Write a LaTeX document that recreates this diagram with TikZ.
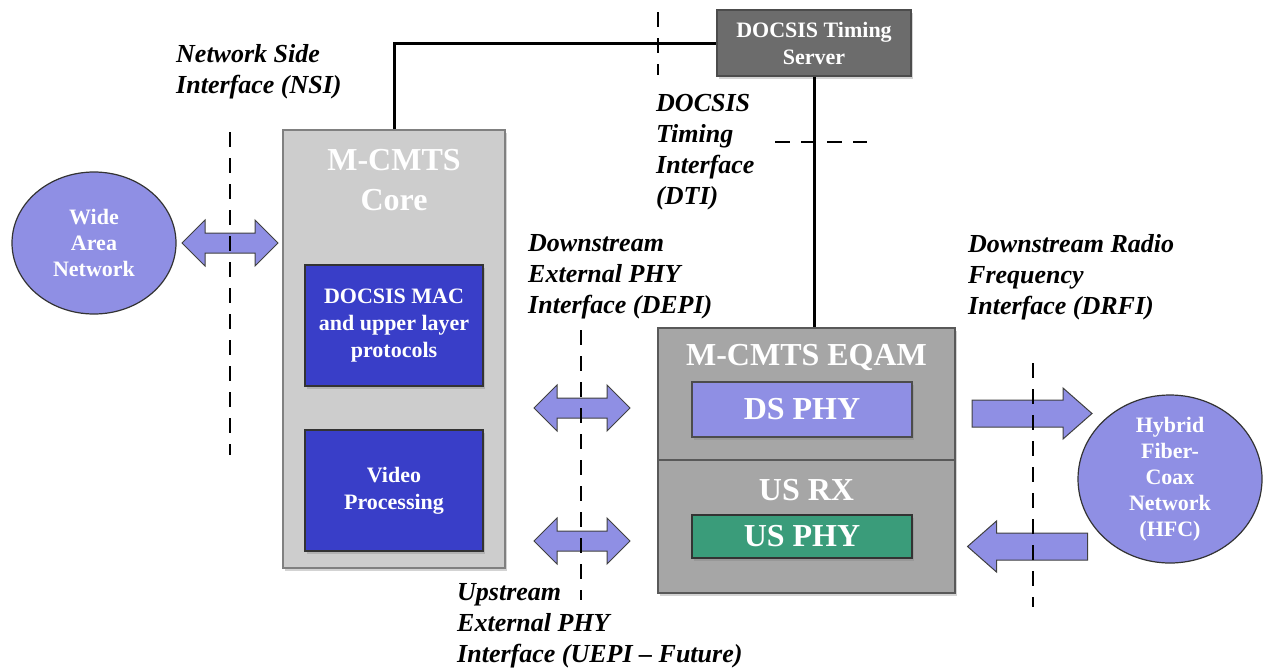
\documentclass[tikz,border=0pt]{standalone}
\usepackage{fontspec}
\setmainfont{Liberation Serif}
\usetikzlibrary{positioning,shapes.geometric,shadows}

\definecolor{lavender}{RGB}{143,143,228}
\definecolor{macblue}{RGB}{57,62,200}
\definecolor{phygreen}{RGB}{58,156,122}
\definecolor{coregray}{RGB}{205,205,205}
\definecolor{eqamgray}{RGB}{166,166,166}
\definecolor{servergray}{RGB}{108,108,108}

\tikzset{
  Arrowfill/.style={draw=black!75,fill=lavender,line width=1pt,line join=miter},
  pics/dblarrow/.style={code={
    \draw[Arrowfill] (-48,0) -- (-25,-23) -- (-25,-10) -- (25,-10) -- (25,-23) -- (48,0)
      -- (25,23) -- (25,10) -- (-25,10) -- (-25,23) -- cycle;}},
  pics/sglarrow/.style={code={
    \draw[Arrowfill] (-60,-13.5) -- (31,-13.5) -- (31,-25.5) -- (60,0) -- (31,25.5)
      -- (31,13.5) -- (-60,13.5) -- cycle;}}
}

\begin{document}
\begin{tikzpicture}[x=1pt,y=-1pt,
  every node/.style={inner sep=0pt},
  Netnode/.style={ellipse,draw=black!80,fill=lavender,line width=1.2pt,text=white,align=center,
    font=\fontsize{22}{26}\selectfont\bfseries},
  Shade/.style={drop shadow={shadow xshift=2pt,shadow yshift=-3pt,opacity=.35}},
  Outerbox/.style={rectangle,draw=black!50,line width=1.5pt,Shade},
  Innerbox/.style={rectangle,draw=black!80,line width=1.2pt,text=white,align=center,Shade},
  Smalltext/.style={font=\fontsize{22}{27}\selectfont\bfseries},
  Bigtext/.style={text=white,align=center,font=\fontsize{32}{40}\selectfont\bfseries},
  Iflabel/.style={anchor=west,align=left,font=\fontsize{26}{31}\selectfont\bfseries\itshape},
  Ifline/.style={line width=2.8pt,dash pattern=on 15pt off 11pt},
  Link/.style={line width=3pt}
]
\useasboundingbox (0,0) rectangle (1265,670);

% the networks
\node[Netnode,minimum width=164pt,minimum height=142pt] (wan) at (94,243) {Wide\\Area\\Network};
\node[Netnode,inner ysep=-6pt,minimum width=184pt,minimum height=168pt] (hfc) at (1170,479) {Hybrid\\Fiber-\\Coax\\Network\\(HFC)};

% the core
\node[Outerbox,fill=coregray,minimum width=222pt,minimum height=438pt] (core) at (394,349) {};
\node[Bigtext] (coretitle) at (394,180) {M-CMTS\\Core};
\node[Innerbox,Smalltext,fill=macblue,minimum width=178pt,minimum height=121pt] (mac) at (394,325.5) {DOCSIS MAC\\and upper layer\\protocols};
\node[Innerbox,Smalltext,fill=macblue,minimum width=178pt,minimum height=121pt] (video) at (394,490.5) {Video\\Processing};

% the timing server
\node[Innerbox,Smalltext,fill=servergray,draw=black!70,minimum width=194pt,minimum height=66pt] (server) at (814,43) {DOCSIS Timing\\Server};

% the edge boxes
\node[Outerbox,fill=eqamgray,draw=black!65,minimum width=297pt,minimum height=132pt] (eqam) at (806.5,394) {};
\node[Bigtext] (eqamtitle) at (806.5,357) {M-CMTS EQAM};
\node[Innerbox,Bigtext,fill=lavender,draw=black!70,minimum width=220pt,minimum height=55pt] (dsphy) at (802,409.5) {DS PHY};
\node[Outerbox,fill=eqamgray,draw=black!65,minimum width=297pt,minimum height=133pt] (usrx) at (806.5,526.5) {};
\node[Bigtext] (usrxtitle) at (806.5,490) {US RX};
\node[Innerbox,Bigtext,fill=phygreen,minimum width=220pt,minimum height=43pt] (usphy) at (802,536.5) {US PHY};

% the timing links
\draw[Link] (core.north) |- (server.west);
\draw[Link] (server.south) -- (server.south |- eqam.north);

% the interface arrows
\pic (nsiarrow) at (230,243) {dblarrow};
\pic (depiarrow) at (582,408) {dblarrow};
\pic (uepiarrow) at (582,541) {dblarrow};
\pic (dsarrow) at (1032,413.5) {sglarrow};
\pic[rotate=180] (usarrow) at (1027.5,546.5) {sglarrow};

% the interface boundaries
\foreach \xa/\ya/\xb/\yb in {230/132/230/455,658/12/658/75,775/142/867/142,581/330/581/600,1033/363/1033/607}
  \draw[Ifline] (\xa,\ya) -- (\xb,\yb);

%label interfaces
\node[Iflabel] (nsi) at (176,72) {Network Side\\Interface (NSI)};
\node[Iflabel] (dti) at (656,152) {DOCSIS\\Timing\\Interface\\(DTI)};
\node[Iflabel] (depi) at (528,277) {Downstream\\External PHY\\Interface (DEPI)};
\node[Iflabel] (drfi) at (968,277) {Downstream Radio\\Frequency\\Interface (DRFI)};
\node[Iflabel] (uepi) at (457,626) {Upstream\\External PHY\\Interface (UEPI -- Future)};

\end{tikzpicture}
\end{document}
